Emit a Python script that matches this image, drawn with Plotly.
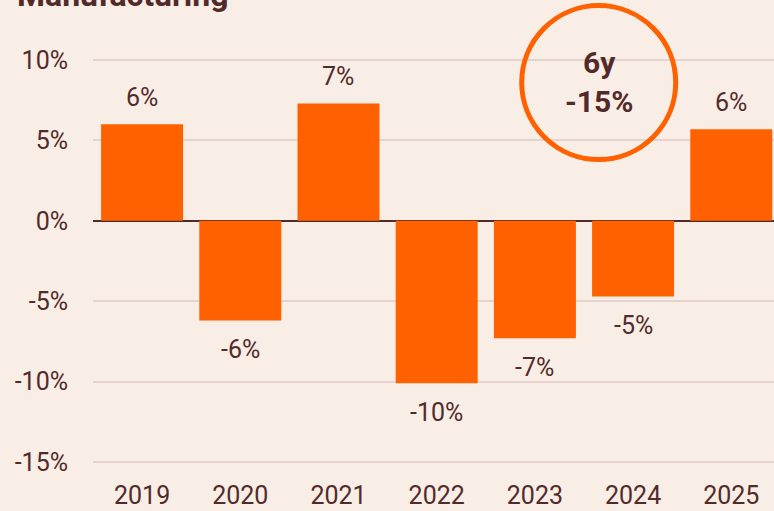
import plotly.graph_objects as go

years = ['2019', '2020', '2021', '2022', '2023', '2024', '2025']
growth = [6.0, -6.2, 7.3, -10.1, -7.3, -4.7, 5.7]
y_ticks = [10, 5, 0, -5, -10, -15]
y_tick_labels = ['10%', '5%', '0%', '-5%', '-10%', '-15%']
title_text = 'Manufacturing'
total_label = '6y<br>-15%'

bg = '#f9eee5'
orange = '#ff6000'
brown = '#532a2a'
grid = '#e8d2cf'

fig = go.Figure()
fig.add_trace(go.Bar(x=years, y=growth, marker=dict(color=orange, line=dict(width=0)),
                     hoverinfo='skip'))

# etiquetas de valor acima / abaixo das barras
for i, v in enumerate(growth):
    fig.add_annotation(x=i, y=v, text=f'{round(v):.0f}%', showarrow=False,
                       yshift=27 if v > 0 else -29,
                       font=dict(size=25, color=brown))

# círculo com o total de 6 anos
fig.add_shape(type='circle', xref='paper', yref='paper', xsizemode='pixel', ysizemode='pixel',
              xanchor=0.7426, yanchor=0.8805, x0=-77, x1=77, y0=-77, y1=77,
              line=dict(color=orange, width=5), layer='above')
fig.add_annotation(xref='paper', yref='paper', x=0.7426, y=0.8805, xanchor='center',
                   yanchor='middle', text=f'<b>{total_label}</b>',
                   showarrow=False, font=dict(size=30, color=brown), yshift=1)

fig.add_annotation(xref='paper', yref='paper', x=-0.1145, y=1.079, xanchor='left',
                   yanchor='middle', text=f'<b>{title_text}</b>', showarrow=False,
                   font=dict(size=32, color=brown))

fig.update_layout(
    width=774, height=511,
    margin=dict(l=93, r=0, t=30, b=41),
    paper_bgcolor=bg, plot_bgcolor=bg,
    font=dict(family='Roboto', color=brown, size=25),
    bargap=0.165,
    showlegend=False,
    xaxis=dict(type='category', range=[-0.5, 6.435], showgrid=False, ticks='',
               tickfont=dict(size=25, color=brown), ticklabelstandoff=8, fixedrange=True),
    yaxis=dict(range=[-15.5, 11.87], tickvals=y_ticks, ticktext=y_tick_labels,
               showgrid=True, gridcolor=grid, gridwidth=2,
               zeroline=True, zerolinecolor=brown, zerolinewidth=2,
               tickfont=dict(size=25, color=brown), ticklabelstandoff=24, fixedrange=True),
)

fig.write_html('out.html', config={'displayModeBar': False},
               post_script="document.body.style.margin='0';")
